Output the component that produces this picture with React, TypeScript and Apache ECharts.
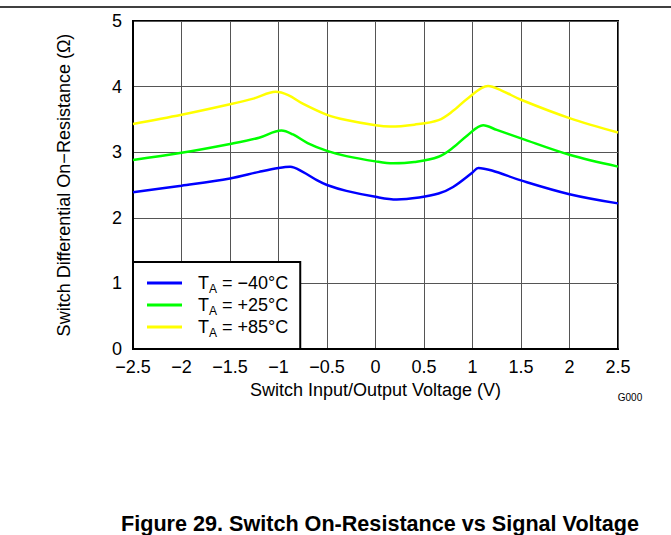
import React, { useEffect, useRef } from "react";
import * as echarts from "echarts";

const xTicks = [-2.5, -2, -1.5, -1, -0.5, 0, 0.5, 1, 1.5, 2, 2.5];

const seriesNames = ["TA = −40°C", "TA = +25°C", "TA = +85°C"];
const seriesColors = ["#0000ff", "#00ff00", "#ffff00"];

const xMinus40 = [-2.5, -2, -1.5, -1.2, -1.0, -0.88, -0.75, -0.6, -0.5, -0.3, 0, 0.22, 0.45, 0.65, 0.8, 1.0, 1.06, 1.2, 1.5, 2, 2.5];
const yMinus40 = [2.39, 2.49, 2.60, 2.70, 2.76, 2.78, 2.70, 2.57, 2.50, 2.41, 2.32, 2.28, 2.31, 2.37, 2.47, 2.69, 2.76, 2.72, 2.57, 2.36, 2.22];

const xPlus25 = [-2.5, -2, -1.5, -1.2, -0.97, -0.85, -0.7, -0.5, -0.3, 0, 0.18, 0.4, 0.65, 0.8, 0.95, 1.11, 1.25, 1.5, 2, 2.5];
const yPlus25 = [2.88, 2.99, 3.125, 3.22, 3.33, 3.27, 3.14, 3.02, 2.94, 2.86, 2.83, 2.85, 2.93, 3.07, 3.26, 3.41, 3.34, 3.21, 2.96, 2.78];

const xPlus85 = [-2.5, -2, -1.5, -1.25, -1.03, -0.9, -0.75, -0.5, -0.3, 0, 0.15, 0.4, 0.65, 0.8, 0.95, 1.16, 1.3, 1.5, 2, 2.5];
const yPlus85 = [3.43, 3.57, 3.73, 3.82, 3.92, 3.87, 3.74, 3.57, 3.49, 3.41, 3.39, 3.42, 3.49, 3.63, 3.82, 4.01, 3.94, 3.80, 3.52, 3.30];

const seriesX = [xMinus40, xPlus25, xPlus85];
const seriesY = [yMinus40, yPlus25, yPlus85];

const FONT = "'Liberation Sans', Arial, Helvetica, sans-serif";

export default function App() {
  const ref = useRef<HTMLDivElement>(null);
  useEffect(() => {
    if (!ref.current) return;
    const chart = echarts.init(ref.current, undefined, { renderer: "svg" });
    const series = seriesNames.map((name, i) => ({
      name,
      type: "line",
      data: seriesX[i].map((x, j) => [x, seriesY[i][j]]),
      smooth: 0.35,
      showSymbol: false,
      symbol: "none",
      lineStyle: { color: seriesColors[i], width: 2.5 },
      itemStyle: { color: seriesColors[i] },
      z: 3,
    }));
    chart.setOption({
      animation: false,
      textStyle: { fontFamily: FONT },
      grid: {
        left: 133,
        top: 21,
        right: 53,
        bottom: 186,
        show: true,
        borderColor: "#000",
        borderWidth: 2,
        backgroundColor: "#fff",
      },
      xAxis: {
        type: "value",
        min: -2.5,
        max: 2.5,
        interval: 0.5,
        name: "Switch Input/Output Voltage (V)",
        nameLocation: "middle",
        nameGap: 30,
        nameTextStyle: { fontSize: 18, color: "#000", fontFamily: FONT },
        axisLine: { show: true, onZero: false, lineStyle: { color: "#000", width: 2 } },
        axisTick: { show: false },
        splitLine: { show: true, lineStyle: { color: "#555", width: 1 } },
        axisLabel: {
          fontSize: 18,
          color: "#000",
          margin: 9,
          fontFamily: FONT,
          formatter: (v: number) => {
            const t = xTicks.find((k) => Math.abs(k - v) < 1e-9);
            const val = t === undefined ? v : t;
            return val < 0 ? "−" + String(Math.abs(val)) : String(val);
          },
        },
      },
      yAxis: {
        type: "value",
        min: 0,
        max: 5,
        interval: 1,
        name: "Switch Differential On−Resistance (Ω)",
        nameLocation: "middle",
        nameGap: 60,
        nameTextStyle: { fontSize: 18, color: "#000", fontFamily: FONT },
        axisLine: { show: true, onZero: false, lineStyle: { color: "#000", width: 2 } },
        axisTick: { show: false },
        splitLine: { show: true, lineStyle: { color: "#555", width: 1 } },
        axisLabel: { fontSize: 18, color: "#000", margin: 11, fontFamily: FONT },
      },
      legend: {
        show: true,
        orient: "vertical",
        left: 133,
        top: 262,
        padding: [9, 12, 10, 14],
        itemGap: -2,
        itemWidth: 35,
        itemHeight: 3,
        icon: "rect",
        backgroundColor: "#fff",
        borderColor: "#000",
        borderWidth: 2,
        data: seriesNames,
        formatter: (name: string) => "{m|T}{s|A}{m| " + name.slice(3) + "}",
        textStyle: {
          fontFamily: FONT,
          color: "#000",
          fontSize: 18,
          padding: [0, 0, 0, 11],
          rich: {
            m: { fontSize: 18, lineHeight: 18, color: "#000", fontFamily: FONT },
            s: { fontSize: 12, lineHeight: 18, color: "#000", fontFamily: FONT, padding: [12, 0, 0, 0] },
          },
        },
      },
      graphic: [
        {
          type: "line",
          shape: { x1: 0, y1: 7, x2: 671, y2: 7 },
          style: { stroke: "#000", lineWidth: 1.5 },
          silent: true,
        },
        {
          type: "text",
          x: 630,
          y: 397,
          style: {
            text: "G000",
            fontSize: 10,
            fontFamily: FONT,
            fill: "#000",
            align: "center",
            verticalAlign: "middle",
          },
        },
        {
          type: "text",
          x: 380,
          y: 523,
          style: {
            text: "Figure 29. Switch On-Resistance vs Signal Voltage",
            fontSize: 21.6,
            fontWeight: "bold",
            fontFamily: FONT,
            fill: "#000",
            align: "center",
            verticalAlign: "middle",
          },
        },
      ],
      series,
    });
    return () => chart.dispose();
  }, []);
  return (
    <div
      ref={ref}
      style={{ position: "absolute", left: 0, top: 0, width: 671, height: 535 }}
    />
  );
}
